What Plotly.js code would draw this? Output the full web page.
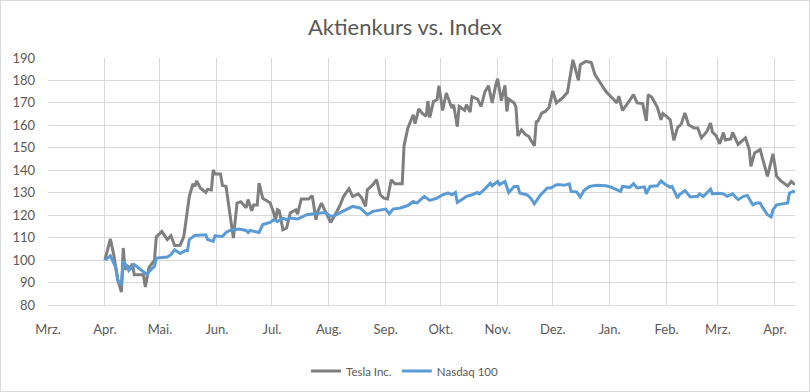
<!DOCTYPE html>
<html>
<head>
<meta charset="utf-8">
<script src="https://cdn.plot.ly/plotly-3.0.1.min.js"></script>
<style>
html,body{margin:0;padding:0;background:#fff;}
#chart{width:808px;height:390px;border:1px solid #d9d9d9;}
</style>
</head>
<body>
<div id="chart"></div>
<script>
const teslaDates = [
"2022-04-01","2022-04-04","2022-04-06","2022-04-08","2022-04-10","2022-04-11","2022-04-12","2022-04-13","2022-04-15","2022-04-16","2022-04-17","2022-04-22","2022-04-23","2022-04-24","2022-04-25","2022-04-28","2022-04-29",
"2022-05-02","2022-05-05","2022-05-07","2022-05-09","2022-05-12","2022-05-14","2022-05-17","2022-05-19","2022-05-20","2022-05-21","2022-05-23","2022-05-26","2022-05-27","2022-05-29","2022-05-30","2022-05-31",
"2022-06-03","2022-06-04","2022-06-06","2022-06-10","2022-06-12","2022-06-14","2022-06-17","2022-06-18","2022-06-20","2022-06-21","2022-06-23","2022-06-24","2022-06-26","2022-06-30",
"2022-07-02","2022-07-03","2022-07-04","2022-07-05","2022-07-07","2022-07-09","2022-07-11","2022-07-14","2022-07-15","2022-07-17","2022-07-21","2022-07-23","2022-07-25","2022-07-26","2022-07-28","2022-07-31",
"2022-08-02","2022-08-04","2022-08-07","2022-08-09","2022-08-12","2022-08-14","2022-08-17","2022-08-19","2022-08-21","2022-08-22","2022-08-25","2022-08-27","2022-08-29","2022-08-31",
"2022-09-02","2022-09-04","2022-09-06","2022-09-10","2022-09-11","2022-09-13","2022-09-14","2022-09-16","2022-09-17","2022-09-19","2022-09-21","2022-09-23","2022-09-24","2022-09-25","2022-09-27","2022-09-29","2022-09-30",
"2022-10-02","2022-10-04","2022-10-07","2022-10-08","2022-10-10","2022-10-11","2022-10-14","2022-10-15","2022-10-17","2022-10-18","2022-10-21","2022-10-23","2022-10-25","2022-10-27","2022-10-29","2022-10-31",
"2022-11-01","2022-11-03","2022-11-05","2022-11-06","2022-11-07","2022-11-10","2022-11-11","2022-11-12","2022-11-14","2022-11-16","2022-11-18","2022-11-19","2022-11-21","2022-11-22","2022-11-23","2022-11-25","2022-11-27","2022-11-29",
"2022-12-01","2022-12-03","2022-12-06","2022-12-09","2022-12-12","2022-12-15","2022-12-16","2022-12-19","2022-12-22","2022-12-24","2022-12-30",
"2023-01-02","2023-01-05","2023-01-06","2023-01-08","2023-01-11","2023-01-14","2023-01-16","2023-01-19","2023-01-21","2023-01-22","2023-01-24","2023-01-27","2023-01-29","2023-01-30",
"2023-02-01","2023-02-03","2023-02-05","2023-02-07","2023-02-09","2023-02-11","2023-02-13","2023-02-16","2023-02-18","2023-02-20","2023-02-23","2023-02-25","2023-02-26","2023-02-28",
"2023-03-02","2023-03-04","2023-03-05","2023-03-08","2023-03-09","2023-03-12","2023-03-14","2023-03-16","2023-03-18","2023-03-19","2023-03-21","2023-03-24","2023-03-28","2023-03-31",
"2023-04-02","2023-04-04","2023-04-08","2023-04-10","2023-04-12"
];
const teslaValues = [
100,109.4,101.6,91.2,85.8,105.4,95.7,97.5,96.5,98.4,93.5,93.5,88,91.7,96.7,100,110.3,
112.8,109.1,110.8,106.5,106.6,110.5,128.4,134,132.8,135.3,132.1,130.1,131.5,131.2,140.2,138.3,
138.3,133.3,132.8,109.8,125.4,126,123.3,127,122,124.5,124.5,134.3,127.5,125.5,
121,117.7,122.5,122,113.5,114.3,121,122.4,120.5,127.2,127.2,128.7,118,121.7,125.4,120.2,
116.8,119.5,124.2,128.3,131.8,128.3,129.5,127.6,123.9,131.3,133.6,135.8,129.1,127.6,
127.2,135.8,134,134,151,158.6,160.6,164.7,160.8,167.3,165.3,164,170.9,163.5,170.6,171.5,177.7,
166.6,174.4,167.7,169.2,159.4,168.4,166.7,169.2,165.9,172.8,171.7,168.4,174.8,177.7,170,178.1,
180.8,171,177.8,166.2,171.7,170,168,155.3,158,156,155,153.5,150.9,161.5,162,165.5,166.2,168,
175.3,170,172,174.6,189.2,180,187,188.5,188,182.6,175.1,
172.5,170,173,166.7,170,173.7,170,169.7,162,173.7,172.5,168,162.5,165.3,
164,162.5,153.3,159,160.5,165.5,160.3,158.8,158.8,154.4,157.3,161,157,155.4,
151.8,156.8,153.5,154,156.9,151.5,153,154.4,149.5,141.7,147.7,149.2,137.3,147.3,
137.3,135.5,133,135,133.6
];
const nasdaqDates = [
"2022-04-01","2022-04-04","2022-04-07","2022-04-08","2022-04-10","2022-04-11","2022-04-13","2022-04-14","2022-04-17","2022-04-24","2022-04-25","2022-04-28","2022-04-29",
"2022-05-05","2022-05-07","2022-05-09","2022-05-12","2022-05-15","2022-05-16","2022-05-17","2022-05-20","2022-05-23","2022-05-26","2022-05-27","2022-05-30","2022-05-31",
"2022-06-03","2022-06-04","2022-06-06","2022-06-08","2022-06-13","2022-06-17","2022-06-18","2022-06-19","2022-06-24","2022-06-26","2022-06-30",
"2022-07-02","2022-07-04","2022-07-07","2022-07-09","2022-07-11","2022-07-15","2022-07-20","2022-07-24","2022-07-30",
"2022-08-02","2022-08-04","2022-08-07","2022-08-11","2022-08-14","2022-08-18","2022-08-22","2022-08-25","2022-08-29",
"2022-09-01","2022-09-03","2022-09-05","2022-09-09","2022-09-13","2022-09-16","2022-09-18","2022-09-22","2022-09-25","2022-09-29",
"2022-10-02","2022-10-05","2022-10-07","2022-10-09","2022-10-10","2022-10-13","2022-10-15","2022-10-18","2022-10-21","2022-10-22","2022-10-25","2022-10-28","2022-10-29",
"2022-11-01","2022-11-02","2022-11-05","2022-11-07","2022-11-10","2022-11-12","2022-11-13","2022-11-17","2022-11-19","2022-11-21","2022-11-24","2022-11-28","2022-11-30",
"2022-12-03","2022-12-05","2022-12-07","2022-12-10","2022-12-11","2022-12-14","2022-12-16","2022-12-18","2022-12-21","2022-12-25","2022-12-30",
"2023-01-02","2023-01-07","2023-01-08","2023-01-12","2023-01-14","2023-01-16","2023-01-20","2023-01-21","2023-01-23","2023-01-27","2023-01-29","2023-01-31",
"2023-02-03","2023-02-04","2023-02-07","2023-02-08","2023-02-11","2023-02-12","2023-02-14","2023-02-18","2023-02-19","2023-02-21","2023-02-25","2023-02-26",
"2023-03-02","2023-03-04","2023-03-06","2023-03-09","2023-03-12","2023-03-15","2023-03-17","2023-03-20","2023-03-22","2023-03-24","2023-03-25","2023-03-28","2023-03-30","2023-03-31",
"2023-04-02","2023-04-08","2023-04-09","2023-04-11","2023-04-12"
];
const nasdaqValues = [
100,101.9,96.5,91.2,89,99.4,97.2,95.3,98,93.5,94.9,97.2,100.9,
101.4,102.4,104.6,102.9,104.3,104.3,109.1,111,111.3,111.3,109.1,108.3,110.8,
110.8,110.5,112.3,113.2,113.8,113.2,112.3,113.2,112.3,115.8,116.8,
118,117.2,118.7,118,118.7,118.3,120.2,120.6,121.2,
119.5,119.7,121,122.7,123.9,123.2,120.2,121.7,122.3,
122.7,120.6,122.7,123.2,124.3,126.1,125.4,128.4,126.6,127.6,
129.1,129.9,129.1,130.1,125.7,127.2,128.4,129.1,130.1,129.5,131.6,134.3,133.1,
135,133.6,135,130.1,132.8,132.8,129.9,129.1,127.6,125.1,128.7,132.1,132.1,
133.6,133.6,133.3,134,130.6,130.4,128.1,131,132.8,133.3,133.1,
132.4,130.6,132.8,132.4,134,132.1,132.6,129.5,132.8,133.1,135.3,133.9,
132.4,132.8,127.6,129.1,131,130.1,128.1,128.4,129.5,128.3,131.6,129.5,
129.8,129.5,128.4,129.5,126.9,128.4,128.8,124.6,125.4,125.4,123.9,120.2,119.2,122.4,
124.6,125.4,129.9,130.6,130.2
];
const seriesNames = ["Tesla Inc.", "Nasdaq 100"];
const tickDates = ["2022-03-01","2022-04-01","2022-05-01","2022-06-01","2022-07-01","2022-08-01","2022-09-01","2022-10-01","2022-11-01","2022-12-01","2023-01-01","2023-02-01","2023-03-01","2023-04-01"];
const tickLabels = ["Mrz.","Apr.","Mai.","Jun.","Jul.","Aug.","Sep.","Okt.","Nov.","Dez.","Jan.","Feb.","Mrz.","Apr."];
const yTicks = [80,90,100,110,120,130,140,150,160,170,180,190];

const FONT = "Lato, 'Open Sans', sans-serif";
const traces = [
  {x: teslaDates, y: teslaValues, name: seriesNames[0], type: "scatter", mode: "lines",
   line: {color: "#7f7f7f", width: 3}},
  {x: nasdaqDates, y: nasdaqValues, name: seriesNames[1], type: "scatter", mode: "lines",
   line: {color: "#5b9bd5", width: 3}}
];
const layout = {
  width: 808, height: 390,
  margin: {l: 47, r: 14, t: 57, b: 86, pad: 0, autoexpand: false},
  paper_bgcolor: "#ffffff", plot_bgcolor: "#ffffff",
  font: {family: FONT, color: "#595959", size: 13},
  title: {text: "Aktienkurs vs. Index", x: 0.5, xanchor: "center", y: 0.932, yanchor: "middle",
          font: {family: FONT, size: 22, color: "#595959"}},
  showlegend: true,
  legend: {orientation: "h", xref: "container", yref: "container", x: 0.5, xanchor: "center",
           y: 0.051, yanchor: "middle",
           font: {family: FONT, size: 11.5, color: "#595959"}, itemwidth: 30, tracegroupgap: 0},
  xaxis: {type: "date", range: ["2022-03-01", "2023-04-12"], tickmode: "array",
          tickvals: tickDates, ticktext: tickLabels, showgrid: true, gridcolor: "#d9d9d9", gridwidth: 1,
          showline: true, linecolor: "#d9d9d9", linewidth: 1, ticks: "", zeroline: false, automargin: false,
          ticklabelstandoff: 12, tickfont: {family: FONT, size: 13, color: "#595959"}},
  yaxis: {range: [80, 190], tickmode: "array", tickvals: yTicks, showgrid: true, gridcolor: "#d9d9d9",
          gridwidth: 1, showline: false, ticks: "", zeroline: false, ticklabelstandoff: 12, automargin: false,
          tickfont: {family: FONT, size: 13, color: "#595959"}}
};
Plotly.newPlot("chart", traces, layout, {displayModeBar: false, staticPlot: true});
</script>
</body>
</html>
